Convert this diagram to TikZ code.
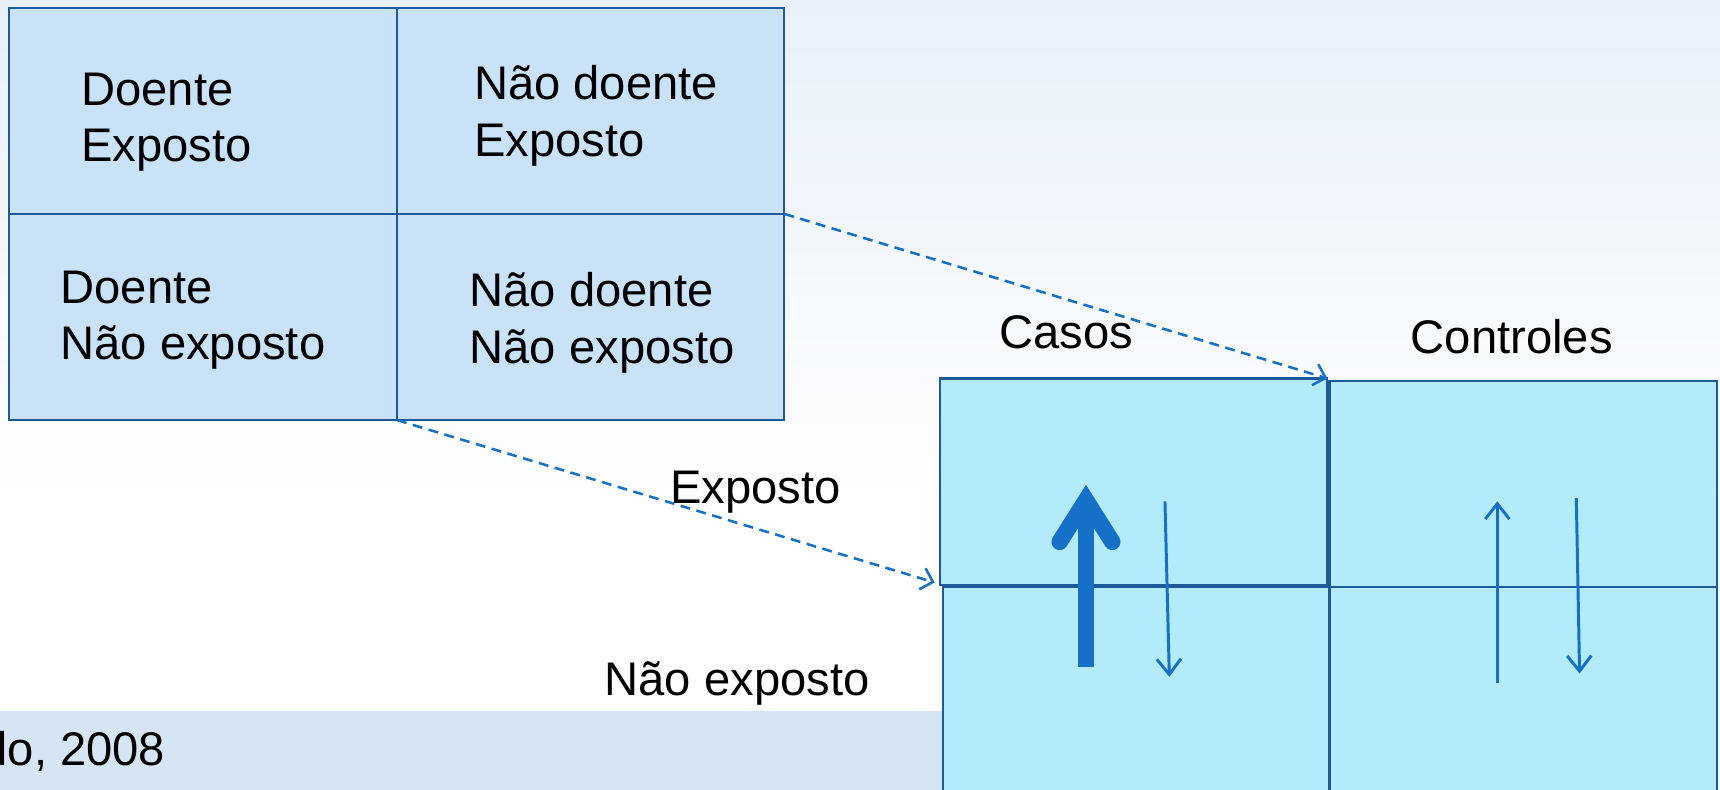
\documentclass[tikz,border=0pt]{standalone}
\usepackage{fontspec}
\setmainfont{Liberation Sans}
\usetikzlibrary{arrows.meta}
\definecolor{bgtop}{HTML}{E8F0FA}
\definecolor{lfill}{HTML}{C9E2F8}
\definecolor{rfill}{HTML}{B4EBFA}
\definecolor{bord}{HTML}{1E5A9A}
\definecolor{arr}{HTML}{1670C8}
\definecolor{band}{HTML}{D5E5F4}
\begin{document}
\begin{tikzpicture}[x=1pt,y=-1pt,
  cellbase/.style={draw=bord, line width=2pt, inner sep=0pt, outer sep=0pt, anchor=north west},
  lcell/.style={cellbase, fill=lfill},
  rcell/.style={cellbase, fill=rfill},
  txt/.style={font=\fontsize{43}{52}\selectfont, inner sep=0pt, anchor=base west},
  dasharrow/.style={draw=arr, line width=2.3pt, dash pattern=on 9pt off 6pt, -{Straight Barb[length=10pt,width=20pt,line width=2.3pt]}},
  thinarrow/.style={draw=arr, line width=2.7pt, -{Straight Barb[length=14pt,width=22pt,line width=2.7pt]}}
]
\useasboundingbox (0,0) rectangle (1568,720);
\shade[top color=bgtop, bottom color=white] (0,0) rectangle (1568,460);
\fill[white] (0,460) rectangle (1568,720);
\fill[band] (0,648) rectangle (860,720);
\node[txt] (ref) at (-17,698) {do, 2008};

% left table
\node[lcell, minimum width=354pt, minimum height=188pt] (c11) at (8,7) {};
\node[lcell, minimum width=353pt, minimum height=188pt] (c12) at (362,7) {};
\node[lcell, minimum width=354pt, minimum height=188pt] (c21) at (8,195) {};
\node[lcell, minimum width=353pt, minimum height=188pt] (c22) at (362,195) {};

\node[txt] (t11a) at (74,96) {Doente};
\node[txt] (t11b) at (74,147) {Exposto};
\node[txt] (t12a) at (432,91) {Não doente};
\node[txt] (t12b) at (432,143) {Exposto};
\node[txt] (t21a) at (55,277) {Doente};
\node[txt] (t21b) at (55,328) {Não exposto};
\node[txt] (t22a) at (428,279) {Não doente};
\node[txt] (t22b) at (428,331) {Não exposto};

% right table
\node[rcell, minimum width=352pt, minimum height=205pt] (r21) at (860,535) {};
\node[rcell, minimum width=353pt, minimum height=205pt] (r22) at (1212,535) {};
\node[rcell, minimum width=353pt, minimum height=188pt] (r11) at (857,345) {};
\node[rcell, minimum width=353pt, minimum height=188pt] (r12) at (1212,347) {};

\node[txt] (casos) at (911,318) {Casos};
\node[txt] (ctrl) at (1286,322) {Controles};
\node[txt] (expo) at (611,459) {Exposto};
\node[txt] (nexpo) at (551,634) {Não exposto};

% dashed connectors
\coordinate (e1) at ([xshift=-2pt,yshift=2pt]r12.north west);
\coordinate (e2) at ([xshift=-5pt,yshift=2pt]r11.south west);
\draw[dasharrow] (c12.south east) -- (e1);
\draw[dasharrow] (c21.south east) -- (e2);

% big arrow
\draw[arr, line width=15pt] (990,608) -- (990,462);
\draw[arr, line width=15pt, line cap=round, line join=miter] (966,494) -- (990,456) -- (1014,494);

% thin arrows
\draw[thinarrow] (1062,457) -- (1066,617);
\draw[thinarrow] (1365,623) -- (1365,457);
\draw[thinarrow] (1437,454) -- (1440,614);
\end{tikzpicture}
\end{document}
